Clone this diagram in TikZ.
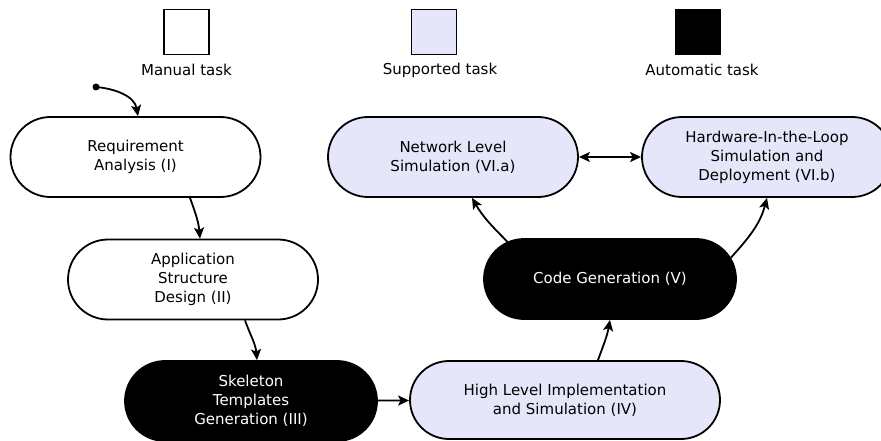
\documentclass[tikz,border=0pt]{standalone}
\usepackage{fontspec}
\setmainfont{DejaVu Sans}
\usetikzlibrary{shapes.misc,arrows.meta}
\definecolor{lav}{HTML}{E6E6FA}
\begin{document}
\begin{tikzpicture}[x=1pt,y=1pt,
  task/.style={rounded rectangle, draw=black, line width=1.8pt, minimum width=250pt, minimum height=80pt, inner sep=0pt, align=center, font=\fontsize{15}{19}\selectfont},
  manual/.style={task, fill=white},
  supported/.style={task, fill=lav},
  automatic/.style={task, fill=black, text=white},
  legbox/.style={draw=black, line width=1.8pt, minimum size=45pt, inner sep=0pt},
  leglabel/.style={font=\fontsize{15}{18}\selectfont},
  conn/.style={line width=1.8pt, -{Stealth[length=11pt,width=10pt,inset=2.5pt]}},
  biconn/.style={line width=1.8pt, {Stealth[length=11pt,width=10pt,inset=2.5pt]}-{Stealth[length=11pt,width=10pt,inset=2.5pt]}}
]
\useasboundingbox (0,0) rectangle (881,440);
\clip (0,0) rectangle (881,440);
% legend
\node[legbox, fill=white] (lm) at (186.5,408) {};
\node[legbox, fill=lav] (ls) at (434,408) {};
\node[legbox, fill=black] (la) at (698,408) {};
\node[leglabel] (lmt) at (186.5,370) {Manual task};
\node[leglabel] (lst) at (440,370) {Supported task};
\node[leglabel] (lat) at (702,370) {Automatic task};
% tasks
\node[manual] (I) at (135.5,283) {Requirement\\Analysis (I)};
\node[manual] (II) at (193,160.5) {Application\\Structure\\Design (II)};
\node[automatic, minimum width=252pt] (III) at (251,39) {Skeleton\\Templates\\Generation (III)};
\node[supported, minimum width=310pt, minimum height=78pt] (IV) at (565,40) {High Level Implementation\\and Simulation (IV)};
\node[automatic, minimum width=252pt] (V) at (610,161) {Code Generation (V)};
\node[supported] (VIa) at (453,283) {Network Level\\Simulation (VI.a)};
\node[supported] (VIb) at (767,283) {Hardware-In-the-Loop\\Simulation and\\Deployment (VI.b)};
% connectors
\coordinate (start) at (96,353);
\fill (start) circle (3.5pt);
\draw[conn] (start) to[out=-5,in=100] ([xshift=2.5pt]I.north);
\draw[conn] ([xshift=54.5pt]I.south) to[out=-70,in=95] ([xshift=7pt]II.north);
\draw[conn] ([xshift=52pt]II.south) to[out=-70,in=95] ([xshift=6pt]III.north);
\draw[conn] (III) -- (IV);
\draw[conn] ([xshift=33pt]IV.north) to[out=70,in=-100] (V.south);
\draw[conn] (V.160) to[out=135,in=-60] ([xshift=19pt]VIa.south);
\draw[conn] (V.10) to[out=48,in=-105] (VIb.south);
\draw[biconn] (VIa) -- (VIb);
\end{tikzpicture}
\end{document}
